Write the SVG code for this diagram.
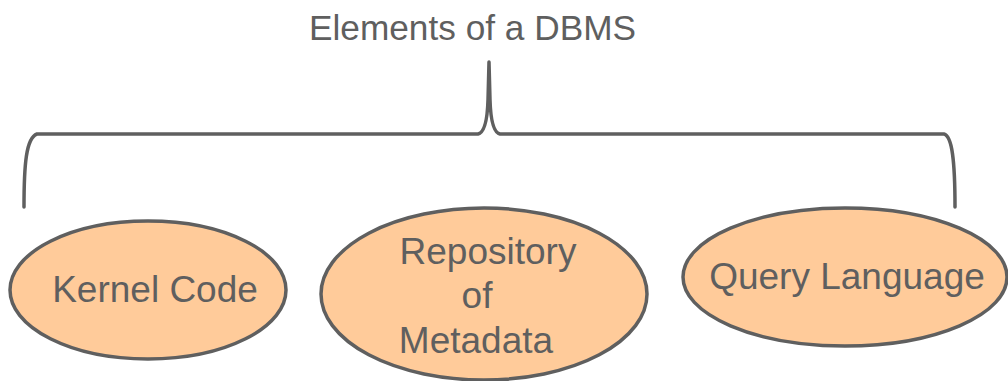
<svg xmlns="http://www.w3.org/2000/svg" width="1008" height="381" viewBox="0 0 1008 381">
<style>
.node ellipse{fill:#FFCB9A;stroke:#5F5F5F;stroke-width:3.5}
.lbl{font-family:"Liberation Sans",Arial,sans-serif;font-size:37px;fill:#5F5F5F;text-anchor:middle}
.title{font-family:"Liberation Sans",Arial,sans-serif;font-size:35px;fill:#5F5F5F}
.conn path{fill:none;stroke:#5F5F5F;stroke-width:3.5;stroke-linecap:round;stroke-linejoin:round}
</style>
<rect width="1008" height="381" fill="#FFFFFF"/>
<g id="title">
<text class="title" x="309" y="40" textLength="327" lengthAdjust="spacingAndGlyphs">Elements of a DBMS</text>
</g>
<g class="conn" id="connectors">
<path d="M24,207 C24,165 26,138 37,134 L478,134 Q487,132 488,100 L489,62 L490,100 Q491,132 500,134 L944,134 C952,136 955,160 955,207"/>
</g>
<g class="node" id="kernel">
<ellipse cx="148" cy="290" rx="138" ry="69"/>
<text class="lbl" x="155" y="302">Kernel Code</text>
</g>
<g class="node" id="repository">
<ellipse cx="484" cy="294" rx="163" ry="86"/>
<text class="lbl" x="488" y="264">Repository</text>
<text class="lbl" x="477" y="308">of</text>
<text class="lbl" x="476" y="353">Metadata</text>
</g>
<g class="node" id="query">
<ellipse cx="845" cy="277" rx="162" ry="69"/>
<text class="lbl" x="847" y="289">Query Language</text>
</g>
</svg>
